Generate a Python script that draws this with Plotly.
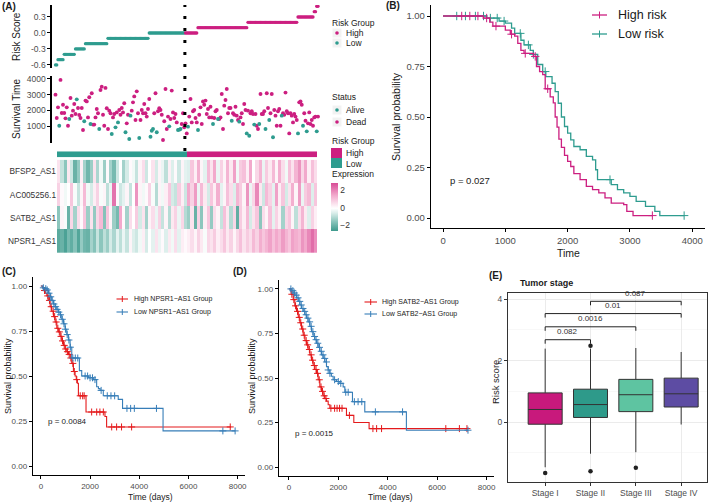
import numpy as np
import plotly.graph_objects as go

W, H = 709, 502
FONT = "Liberation Sans, Arial, sans-serif"
MAG = "#CC1F80"
TEAL = "#2E9C8F"
RED = "#E41A1C"
BLUE = "#377EB8"
TICK = "#4D4D4D"
TITLE = "#1A1A1A"


def px(x):
    return x / W


def py(y):
    return 1 - y / H


# ---------------- Panel A data ----------------
risk_levels_low = [-0.6, -0.5, -0.4, -0.3, -0.2, -0.1, 0.0]
risk_counts_low = [2, 5, 9, 8, 18, 33, 29]
risk_levels_high = [0.0, 0.1, 0.2, 0.3, 0.4, 0.5]
risk_counts_high = [10, 40, 40, 13, 2, 2]

survival_time_low = [
    3000, 1510, 2190, 1020, 3940, 1830, 2360, 1830, 1490, 2190,
    1020, 1450, 2790, 1660, 1980, 2400, 1770, 2700, 2150, 1700,
    1510, 2150, 745, 1300, 2620, 2570, 1550, 2830, 1130, 3090,
    1090, 1090, 1550, 2090, 1810, 810, 3300, 3510, 1720, 1020,
    3430, 2130, 810, 1980, 1810, 490, 1550, 1770, 915, 1870,
    1230, 2020, 1720, 2150, 1870, 2450, 600, 1170, 1720, 170,
    1660, 1980, 2510, 2890, 1380, 3210, 1810, 235, 1380, 2020,
    1810, 2400, 1810, 1600, 2090, 2720, 320, 700, 810, 1810,
    3090, 600, 1940, 2130, 2020, 1720, 106, 1300, 3360, 810,
    1600, 980, 1450, 3260, 1870, 1510, 1770, 1230, 745, 770,
    810, 1130, 1810, 915]
status_low = [  # 1 = Dead, 0 = Alive
    1, 1, 1, 0, 1, 1, 1, 1, 1, 1,
    1, 0, 1, 1, 1, 1, 1, 0, 1, 1,
    1, 1, 1, 0, 1, 1, 1, 1, 0, 1,
    1, 1, 1, 1, 1, 0, 1, 1, 1, 1,
    1, 1, 1, 1, 1, 0, 1, 1, 0, 1,
    0, 1, 1, 1, 1, 1, 0, 1, 1, 0,
    0, 1, 1, 1, 1, 1, 1, 0, 1, 1,
    1, 1, 1, 1, 1, 1, 0, 0, 0, 1,
    1, 0, 1, 1, 1, 1, 1, 1, 1, 1,
    1, 0, 1, 1, 1, 1, 1, 1, 0, 0,
    0, 1, 1, 1]
survival_time_high = [
    1170, 530, 960, 1600, 2720, 1230, 1940, 2020, 1510, 1230,
    745, 1720, 2190, 1130, 2570, 2360, 2620, 1770, 2090, 1550,
    2230, 1550, 1130, 1510, 1940, 2020, 1450, 1450, 1550, 3040,
    810, 2300, 2660, 3360, 1810, 2150, 2150, 1340, 1810, 1720,
    2230, 1660, 1380, 1280, 1550, 1810, 1130, 2400, 2020, 530,
    1980, 380, 1810, 1940, 1770, 1090, 1770, 1020, 810, 1130,
    3040, 1770, 1770, 1940, 810, 3090, 2150, 1380, 1810, 3040,
    280, 2020, 1660, 1020, 1940, 2090, 1020, 1660, 1810, 1720,
    3130, 1940, 1810, 530, 1810, 1660, 1230, 1770, 1600, 1380,
    530, 2510, 2570, 2360, 1020, 1810, 1340, 660, 1170, 1870,
    1130, 1380, 1020, 1550, 1600, 660, 1600]
status_high = [
    1, 1, 0, 1, 1, 1, 1, 1, 1, 1,
    0, 1, 1, 1, 1, 1, 1, 1, 1, 1,
    1, 1, 0, 1, 1, 1, 0, 1, 1, 1,
    1, 1, 1, 1, 1, 1, 1, 0, 1, 1,
    1, 1, 1, 0, 1, 1, 1, 1, 1, 0,
    1, 0, 1, 1, 1, 0, 1, 1, 1, 0,
    1, 1, 1, 1, 0, 1, 1, 0, 1, 1,
    0, 1, 1, 1, 1, 1, 1, 0, 1, 1,
    1, 1, 1, 1, 1, 1, 1, 1, 1, 1,
    0, 1, 1, 1, 0, 1, 1, 0, 1, 1,
    1, 1, 1, 1, 1, 0, 1]

genes = ["BFSP2_AS1", "AC005256.1", "SATB2_AS1", "NPSR1_AS1"]
bfsp2_low = [0.5, -0.8, -1.5, 0.4, -0.7, -2.0, -1.4, 0.3, -1.2, -1.9,
             -1.3, 0.5, -1.1, -0.2, -1.3, 0.1, -1.2, -1.8, -0.7, 0.0,
             -1.2, -0.6, 0.1, -0.2, -0.8, 0.2, 0.6, -0.7, 0.0, 0.5,
             -0.6, 0.2, -0.3, -0.9, 0.3, -0.5, 0.1, -0.7, 0.2, -0.4]
bfsp2_high = [-0.5, 1.0, 0.3, 1.4, 0.2, -0.4, 1.2, 0.5, 1.5, -0.3,
              0.8, 0.2, 1.3, 0.4, 1.6, -0.2, 0.9, 1.1, 0.3, 1.5,
              0.0, 0.7, 1.3, -0.3, 0.9, 0.4, 1.2, 0.2, 1.4, 0.6,
              -0.2, 1.1, 0.5, 1.3, 1.8, 0.7, 1.5, 0.3, 1.1, 0.6]
ac005_low = [0.8, 0.1, -0.2, 0.0, 1.0, -0.1, -0.8, 0.2, 1.2, -0.2,
             -0.6, 0.3, 0.8, -0.1, 0.2, -0.9, -0.3, 2.3, 0.1, -0.7,
             -0.4, 0.2, -0.8, 0.0, 1.8, 0.2, -0.2, 0.1, 0.8, -0.1,
             -1.0, 0.2, -0.2, 0.3, 1.0, -0.6, -0.8, 0.9, 0.3, -0.7]
ac005_high = [1.5, 0.8, 1.7, -0.3, 1.2, 0.4, -0.6, 1.0, 0.3, 1.4,
              -0.4, 0.2, 1.1, 0.6, -0.5, 1.3, 0.9, 0.2, 1.8, -0.3,
              0.7, 2.0, 0.4, -0.7, 1.2, 0.8, -0.4, 1.6, 0.3, 1.0,
              -0.6, 0.5, 1.4, 0.2, 1.7, -0.3, 0.9, 1.2, -0.5, 1.0]
satb2_low = [-1.5, 0.2, -0.1, -2.0, 0.7, -1.2, 0.6, 0.1, 1.0, -1.3,
             0.5, -1.4, 0.7, 1.2, -1.6, 1.0, 0.2, -1.3, -1.8, 1.5,
             0.1, -1.2, 0.6, 0.0, 0.9, -0.6, 0.5, -1.2, 0.2, 0.6,
             -0.3, 0.8, -0.8, 0.2, -1.0, 0.4, 0.8, -0.3, 0.7, -1.0]
satb2_high = [-1.3, 0.5, -2.0, 0.8, -1.5, 0.3, 1.0, -1.4, 0.6, 0.2,
              -0.8, 1.1, 0.4, -1.0, 0.7, -2.1, 0.9, 0.3, 1.2, -0.6,
              0.5, 1.0, -1.5, 0.6, 0.2, 1.1, -0.4, 0.8, 0.3, -1.2,
              0.7, 1.0, 0.2, -0.9, 0.6, 1.3, 0.4, -0.5, 0.8, 0.3]
npsr1_low = [-2.2, -2.0, -2.4, -1.8, -2.1, -1.6, -2.3, -1.4, -1.9, -2.0,
             -1.2, -1.6, -0.8, -1.5, -0.9, -1.3, -0.6, -1.1, -0.4, -0.9,
             -0.3, -0.8, 0.2, -0.5, -0.7, -0.2, 0.3, -0.6, 0.0, -0.4,
             0.5, -0.3, 0.1, -0.5, 0.4, -0.2, 0.6, -0.4, 0.3, 0.1]
npsr1_high = [0.3, 0.6, 0.2, 0.8, 0.4, -0.1, 0.7, 0.5, 0.9, 0.3,
              0.6, 1.0, 0.4, 0.8, 0.2, 0.7, 1.1, 0.5, 0.9, 0.6,
              1.2, 0.8, 1.4, 1.0, 1.3, 1.6, 1.1, 1.5, 1.2, 1.7,
              1.3, 1.0, 1.6, 1.4, 1.2, 1.8, 1.5, 2.0, 2.4, 1.9]

# ---------------- Panel B data ----------------
b_high_t = [0, 650, 750, 800, 1000, 1080, 1150, 1200, 1250, 1300, 1450, 1500, 1550, 1600,
            1640, 1720, 1770, 1800, 1830, 1860, 1900, 1950, 2000, 2050, 2100, 2200, 2300,
            2400, 2500, 2600, 2700, 2900, 2950, 3050, 3360]
b_high_s = [1.0, 0.99, 0.97, 0.95, 0.93, 0.91, 0.90, 0.865, 0.83, 0.815, 0.80, 0.75, 0.725, 0.71,
            0.64, 0.60, 0.57, 0.50, 0.45, 0.39, 0.35, 0.31, 0.28, 0.255, 0.22, 0.19, 0.157,
            0.14, 0.124, 0.10, 0.074, 0.066, 0.033, 0.012, 0.012]
b_high_cens = [300, 430, 560, 700, 850, 1100, 1320, 1480, 1680, 3360]
b_low_t = [0, 700, 900, 1000, 1100, 1150, 1250, 1300, 1400, 1450, 1520, 1600, 1650, 1750,
           1800, 1850, 1900, 1950, 2000, 2050, 2100, 2200, 2300, 2400, 2450, 2480, 2700,
           2800, 2900, 3000, 3100, 3250, 3400, 3480, 3870]
b_low_s = [1.0, 0.99, 0.975, 0.965, 0.94, 0.914, 0.88, 0.857, 0.83, 0.81, 0.76, 0.725, 0.70, 0.667,
           0.626, 0.568, 0.50, 0.453, 0.42, 0.387, 0.354, 0.338, 0.305, 0.288, 0.239, 0.19, 0.165,
           0.14, 0.124, 0.107, 0.082, 0.058, 0.033, 0.012, 0.012]
b_low_cens = [220, 360, 520, 650, 760, 870, 980, 1240, 1370, 1450, 1640, 2680, 3870]

# ---------------- Panel C data ----------------
c_high_t = [0, 60, 120, 180, 243, 300, 378, 440, 513, 580, 648, 710, 783, 850, 918, 985,
            1053, 1120, 1188, 1256, 1323, 1391, 1440, 1485, 1526, 1836, 2606, 2673, 7736]
c_high_s = [1.0, 0.99, 0.975, 0.96, 0.945, 0.92, 0.885, 0.86, 0.83, 0.80, 0.765, 0.745, 0.72,
            0.695, 0.67, 0.65, 0.635, 0.62, 0.60, 0.57, 0.525, 0.50, 0.48, 0.46, 0.39, 0.30,
            0.275, 0.217, 0.217]
c_high_cens = [150, 280, 350, 420, 500, 560, 620, 690, 750, 820, 880, 950, 1010, 1080, 1150,
               1220, 1300, 1360, 1460, 1600, 1700, 1760, 2065, 2270, 2400, 2540, 2880, 3080,
               3280, 3690, 7700]
c_low_t = [0, 80, 160, 243, 310, 378, 440, 513, 580, 648, 710, 783, 850, 918, 985, 1053,
           1120, 1188, 1256, 1566, 1661, 1931, 2133, 2268, 2340, 2407, 2538, 3146, 3321,
           4968, 7898]
c_low_s = [1.0, 0.99, 0.985, 0.978, 0.96, 0.94, 0.92, 0.90, 0.885, 0.87, 0.855, 0.84, 0.815,
           0.79, 0.76, 0.73, 0.70, 0.66, 0.60, 0.53, 0.50, 0.49, 0.48, 0.44, 0.43, 0.42, 0.39,
           0.37, 0.32, 0.195, 0.195]
c_low_cens = [100, 200, 260, 330, 400, 460, 530, 600, 660, 730, 800, 870, 940, 1000, 1070,
              1140, 1200, 1300, 1400, 1500, 1800, 1900, 2000, 2100, 2200, 2450, 2700, 2850,
              3000, 3500, 3650, 3800, 4700, 7400, 7898]

# ---------------- Panel D data ----------------
d_high_t = [0, 90, 175, 240, 310, 380, 444, 510, 579, 650, 714, 780, 849, 915, 983, 1050,
            1118, 1185, 1253, 1320, 1387, 1455, 1522, 1590, 1657, 2330, 2627, 3246, 7206]
d_high_s = [1.0, 0.97, 0.94, 0.905, 0.874, 0.84, 0.81, 0.775, 0.74, 0.71, 0.686, 0.66, 0.63,
            0.60, 0.57, 0.548, 0.526, 0.49, 0.45, 0.425, 0.40, 0.385, 0.37, 0.35, 0.33, 0.29,
            0.25, 0.216, 0.216]
d_high_cens = [120, 200, 270, 350, 420, 480, 560, 620, 700, 760, 830, 900, 960, 1030, 1100,
               1160, 1230, 1300, 1360, 1430, 1500, 1700, 1850, 1950, 2050, 2150, 2450, 3400,
               3550, 3750, 6350, 6900, 7206]
d_low_t = [0, 90, 175, 240, 310, 380, 444, 510, 579, 650, 714, 780, 849, 915, 983, 1050,
           1118, 1185, 1253, 1320, 1387, 1455, 1522, 1590, 1657, 1720, 1791, 1926, 2061,
           2195, 2263, 2573, 3071, 4755, 7247]
d_low_s = [1.0, 0.99, 0.977, 0.965, 0.95, 0.93, 0.91, 0.89, 0.874, 0.855, 0.836, 0.815, 0.79,
           0.76, 0.733, 0.715, 0.695, 0.672, 0.65, 0.63, 0.61, 0.59, 0.564, 0.545, 0.526,
           0.51, 0.49, 0.48, 0.47, 0.45, 0.42, 0.367, 0.31, 0.207, 0.207]
d_low_cens = [80, 160, 230, 300, 370, 440, 500, 570, 640, 700, 770, 840, 900, 970, 1040,
              1100, 1170, 1240, 1310, 1380, 1450, 1520, 1590, 1660, 1850, 2000, 2100, 2300,
              2400, 2650, 2800, 2950, 3500, 4600, 7247]

# ---------------- Panel E data ----------------
stages = ["Stage I", "Stage II", "Stage III", "Stage IV"]
stage_colors = ["#C8197C", "#2E9A8A", "#5EC4A1", "#5D4CA3"]
box_q1 = [-0.07, 0.15, 0.34, 0.49]
box_median = [0.41, 0.57, 0.89, 0.92]
box_q3 = [0.95, 1.07, 1.39, 1.43]
box_lower = [-1.47, -1.03, -0.98, -0.08]
box_upper = [2.39, 2.39, 2.41, 2.28]
outlier_stage = [0, 1, 1, 2]
outlier_value = [-1.66, -1.60, 2.48, -1.49]
bracket_from = [0, 0, 0, 1]
bracket_to = [1, 2, 3, 3]
bracket_y = [2.68, 3.10, 3.53, 3.93]
bracket_label = ["0.082", "0.0016", "0.01", "0.087"]

# ---------------- figure ----------------
fig = go.Figure()

# Panel A: risk score
risk_low = np.repeat(risk_levels_low, risk_counts_low)
risk_high = np.repeat(risk_levels_high, risk_counts_high)
n_low, n_high = len(risk_low), len(risk_high)
idx_low = np.arange(1, n_low + 1)
idx_high = np.arange(n_low + 1, n_low + n_high + 1)
fig.add_trace(go.Scatter(x=idx_low, y=risk_low, mode="markers", xaxis="x", yaxis="y",
                         marker=dict(color=TEAL, size=3.3), showlegend=False))
fig.add_trace(go.Scatter(x=idx_high, y=risk_high, mode="markers", xaxis="x", yaxis="y",
                         marker=dict(color=MAG, size=3.3), showlegend=False))

# Panel A: survival time
s_time = np.array(survival_time_low + survival_time_high)
s_stat = np.array(status_low + status_high)
s_idx = np.arange(1, len(s_time) + 1)
fig.add_trace(go.Scatter(x=s_idx[s_stat == 1], y=s_time[s_stat == 1], mode="markers",
                         xaxis="x2", yaxis="y2", marker=dict(color=MAG, size=3.9), showlegend=False))
fig.add_trace(go.Scatter(x=s_idx[s_stat == 0], y=s_time[s_stat == 0], mode="markers",
                         xaxis="x2", yaxis="y2", marker=dict(color=TEAL, size=3.9), showlegend=False))

# Panel A: risk group bar
fig.add_trace(go.Heatmap(z=[[0, 1]], x=[0, 1], y=[0], xaxis="x3", yaxis="y3",
                         colorscale=[[0, TEAL], [1, MAG]], showscale=False))

# Panel A: expression heatmap
expr = [bfsp2_low + bfsp2_high, ac005_low + ac005_high,
        satb2_low + satb2_high, npsr1_low + npsr1_high]
zmin, zmax = -2.6, 2.9


def zpos(z):
    return (z - zmin) / (zmax - zmin)


heat_scale = [[0, "#3E9A8D"], [zpos(-1.5), "#8CC6BD"], [zpos(-0.5), "#DDEFEC"],
              [zpos(0), "#FFFFFF"], [zpos(0.5), "#FBE3EE"], [zpos(1.5), "#F2A9CC"],
              [1, "#D84C96"]]
fig.add_trace(go.Heatmap(
    z=expr, x=list(range(len(expr[0]))), y=[0, 1, 2, 3], xaxis="x4", yaxis="y4",
    zmin=zmin, zmax=zmax, colorscale=heat_scale,
    colorbar=dict(x=px(331), xanchor="left", y=py(206.5), yanchor="middle",
                  len=48, lenmode="pixels", thickness=7, thicknessmode="pixels",
                  xpad=0, ypad=0, outlinewidth=0, ticks="",
                  tickvals=[-2, 0, 2], ticktext=["\u22122", "0", "2"],
                  tickfont=dict(size=8.5, color="#333", family=FONT))))


def step_at(times, surv, t):
    i = np.searchsorted(np.asarray(times), np.asarray(t), side="right") - 1
    return np.asarray(surv)[np.clip(i, 0, len(surv) - 1)]


def km(times, surv, cens, color, xa, ya, lw=1.3, msize=6):
    fig.add_trace(go.Scatter(x=times, y=surv, mode="lines", line=dict(color=color, width=lw, shape="hv"),
                             xaxis=xa, yaxis=ya, showlegend=False))
    fig.add_trace(go.Scatter(x=cens, y=step_at(times, surv, cens), mode="markers",
                             marker=dict(symbol="cross-thin", size=msize, line=dict(color=color, width=1)),
                             xaxis=xa, yaxis=ya, showlegend=False))


km(b_low_t, b_low_s, b_low_cens, TEAL, "x5", "y5")
km(b_high_t, b_high_s, b_high_cens, MAG, "x5", "y5")
km(c_high_t, c_high_s, c_high_cens, RED, "x6", "y6", lw=1.1, msize=5)
km(c_low_t, c_low_s, c_low_cens, BLUE, "x6", "y6", lw=1.1, msize=5)
km(d_high_t, d_high_s, d_high_cens, RED, "x7", "y7", lw=1.1, msize=5)
km(d_low_t, d_low_s, d_low_cens, BLUE, "x7", "y7", lw=1.1, msize=5)

# Panel E: boxes
for i, st in enumerate(stages):
    fig.add_trace(go.Box(x=[i], q1=[box_q1[i]], median=[box_median[i]], q3=[box_q3[i]],
                         lowerfence=[box_lower[i]], upperfence=[box_upper[i]],
                         fillcolor=stage_colors[i], line=dict(color="#333333", width=1),
                         width=0.75, whiskerwidth=0, boxpoints=False,
                         xaxis="x8", yaxis="y8", showlegend=False, name=st))
fig.add_trace(go.Scatter(x=outlier_stage, y=outlier_value, mode="markers",
                         marker=dict(color="#222222", size=4.5), xaxis="x8", yaxis="y8",
                         showlegend=False))

# ---------------- axes ----------------
tickfont = dict(size=8.5, color=TICK, family=FONT)
left_a = dict(showline=True, linecolor="black", linewidth=1.6, ticks="outside", ticklen=3,
              tickcolor="black", showgrid=False, zeroline=False, tickfont=tickfont,
              automargin=False)
x_a = dict(domain=[px(52), px(322)], range=[-1.8, 214.2], visible=False, automargin=False)
layout_axes = dict(
    xaxis=dict(x_a, anchor="y"),
    yaxis=dict(left_a, domain=[py(68), py(5)], range=[-0.657, 0.525], anchor="x",
               tickvals=[-0.6, -0.3, 0, 0.3], ticktext=["-0.6", "-0.3", "0.0", "0.3"]),
    xaxis2=dict(x_a, anchor="y2"),
    yaxis2=dict(left_a, domain=[py(143), py(76)], range=[-83, 4190], anchor="x2",
                tickvals=[1000, 2000, 3000, 4000]),
    xaxis3=dict(domain=[px(57), px(317)], range=[-0.5, 1.5], visible=False, anchor="y3",
                automargin=False),
    yaxis3=dict(domain=[py(157.3), py(151.3)], range=[-0.5, 0.5], visible=False, anchor="x3",
                automargin=False),
    xaxis4=dict(domain=[px(57), px(317)], range=[-0.5, 79.5], visible=False, anchor="y4",
                automargin=False),
    yaxis4=dict(domain=[py(253), py(159.7)], range=[3.5, -0.5], anchor="x4", showline=False,
                showgrid=False, zeroline=False, ticks="", tickvals=[0, 1, 2, 3], ticktext=genes,
                tickfont=dict(size=8.3, color="#333", family=FONT), automargin=False),
)


def km_axes(xd, yd, xr, xt, tf):
    xa = dict(domain=xd, range=xr, showline=True, linecolor="black", linewidth=1.2,
              ticks="outside", ticklen=3, tickcolor="black", showgrid=False, zeroline=False,
              tickvals=xt, tickfont=tf, automargin=False)
    ya = dict(domain=yd, range=[-0.05, 1.05], showline=True, linecolor="black", linewidth=1.2,
              ticks="outside", ticklen=3, tickcolor="black", showgrid=False, zeroline=False,
              tickvals=[0, 0.25, 0.5, 0.75, 1.0], ticktext=["0.00", "0.25", "0.50", "0.75", "1.00"],
              tickfont=tf, automargin=False)
    return xa, ya


xa5, ya5 = km_axes([px(431), px(705)], [py(228), py(5)], [-193, 4205],
                   [0, 1000, 2000, 3000, 4000], dict(size=9.5, color=TICK, family=FONT))
ya5["range"] = [-0.0495, 1.0545]
xa6, ya6 = km_axes([px(33), px(245)], [py(475), py(277)], [-320, 8300],
                   [0, 2000, 4000, 6000, 8000], dict(size=8, color=TICK, family=FONT))
xa7, ya7 = km_axes([px(279), px(494)], [py(476), py(280)], [-400, 8300],
                   [0, 2000, 4000, 6000, 8000], dict(size=8, color=TICK, family=FONT))
for k, v in [("xaxis5", dict(xa5, anchor="y5")), ("yaxis5", dict(ya5, anchor="x5")),
             ("xaxis6", dict(xa6, anchor="y6")), ("yaxis6", dict(ya6, anchor="x6")),
             ("xaxis7", dict(xa7, anchor="y7")), ("yaxis7", dict(ya7, anchor="x7"))]:
    layout_axes[k] = v

layout_axes["xaxis8"] = dict(domain=[px(508), px(707)], range=[-0.82, 3.57], anchor="y8",
                             showline=True, mirror=True, linecolor="#333", linewidth=1,
                             ticks="outside", ticklen=3, tickcolor="#333", zeroline=False,
                             showgrid=True, gridcolor="#EBEBEB", gridwidth=1,
                             tickvals=[0, 1, 2, 3], ticktext=stages, automargin=False,
                             tickfont=dict(size=8.5, color=TICK, family=FONT))
layout_axes["yaxis8"] = dict(domain=[py(482), py(293)], range=[-1.95, 4.2], anchor="x8",
                             showline=True, mirror=True, linecolor="#333", linewidth=1,
                             ticks="outside", ticklen=3, tickcolor="#333", zeroline=False,
                             showgrid=True, gridcolor="#EBEBEB", gridwidth=1, automargin=False,
                             tickvals=[0, 2, 4], tickfont=dict(size=8.5, color=TICK, family=FONT),
                             minor=dict(tickvals=[-1, 1, 3], showgrid=True, gridcolor="#F3F3F3",
                                        gridwidth=0.6, ticks=""))

# ---------------- shapes & annotations ----------------
shapes = []
ann = []


def lin(x0, y0, x1, y1, color, width=1.0, dash=None):
    d = dict(type="line", xref="paper", yref="paper", x0=px(x0), y0=py(y0), x1=px(x1), y1=py(y1),
             line=dict(color=color, width=width))
    if dash:
        d["line"]["dash"] = dash
    return d


def rect(x0, y0, x1, y1, color):
    return dict(type="rect", xref="paper", yref="paper", x0=px(x0), y0=py(y1), x1=px(x1), y1=py(y0),
                fillcolor=color, line=dict(width=0))


def dot(cx, cy, r, color):
    return dict(type="circle", xref="paper", yref="paper", x0=px(cx - r), x1=px(cx + r),
                y0=py(cy + r), y1=py(cy - r), fillcolor=color, line=dict(width=0))


def txt(x, y, s, size, color=TITLE, xanchor="left", bold=False, angle=0, yanchor="middle"):
    return dict(xref="paper", yref="paper", x=px(x), y=py(y), text=f"<b>{s}</b>" if bold else s,
                showarrow=False, xanchor=xanchor, yanchor=yanchor, textangle=angle,
                font=dict(size=size, color=color, family=FONT))


# dotted divider in panel A
shapes.append(dict(type="line", xref="x", yref="paper", x0=n_low + 0.5, x1=n_low + 0.5,
                   y0=py(151), y1=py(5), line=dict(color="black", width=3, dash="3px,9px")))

# panel A legends
ann.append(txt(330, 23, "Risk Group", 8.5))
for yy, c, lab in [(33, MAG, "High"), (43, TEAL, "Low")]:
    shapes.append(rect(332.5, yy - 4.5, 341.5, yy + 4.5, "#F2F2F2"))
    shapes.append(dot(337, yy, 1.8, c))
    ann.append(txt(344, yy, lab, 8.5))
ann.append(txt(330, 97, "Status", 8.5))
for yy, c, lab in [(110, TEAL, "Alive"), (122, MAG, "Dead")]:
    shapes.append(rect(332.5, yy - 4.5, 341.5, yy + 4.5, "#F2F2F2"))
    shapes.append(dot(337, yy, 1.8, c))
    ann.append(txt(344, yy, lab, 8.5))
ann.append(txt(330, 141, "Risk Group", 8.5))
shapes.append(rect(331, 148, 342, 158, MAG))
shapes.append(rect(331, 158, 342, 168, TEAL))
ann.append(txt(344, 153, "High", 8.5))
ann.append(txt(344, 164, "Low", 8.5))
ann.append(txt(330, 174, "Expression", 8.5))

# panel A titles
ann.append(txt(16, 37, "Risk Score", 10, angle=-90, xanchor="center"))
ann.append(txt(16, 109, "Survival Time", 10, angle=-90, xanchor="center"))

# panel B legend / titles
for yy, c, lab in [(15, MAG, "High risk"), (34, TEAL, "Low risk")]:
    shapes.append(lin(592, yy, 607, yy, c, 1.3))
    shapes.append(lin(599.5, yy - 3.5, 599.5, yy + 3.5, c, 1))
    ann.append(txt(616, yy, lab, 12.5))
ann.append(txt(448, 180, "p = 0.027", 9.5))
ann.append(txt(568, 253, "Time", 10.5, xanchor="center"))
ann.append(txt(396, 117, "Survival probability", 10.5, angle=-90, xanchor="center"))

# panel C legend / titles
for yy, c, lab in [(299, RED, "High NPSR1\u2212AS1 Group"), (312, BLUE, "Low NPSR1\u2212AS1 Group")]:
    shapes.append(lin(116.5, yy, 128, yy, c, 1.1))
    shapes.append(lin(122.3, yy - 3, 122.3, yy + 3, c, 1))
    ann.append(txt(131.5, yy, lab, 7))
ann.append(txt(45.5, 421, "p = 0.0084", 8))
ann.append(txt(150, 497, "Time (days)", 8.5, xanchor="center"))
ann.append(txt(8, 376, "Survival probability", 9, angle=-90, xanchor="center"))

# panel D legend / titles
for yy, c, lab in [(302, RED, "High SATB2\u2212AS1 Group"), (314, BLUE, "Low SATB2\u2212AS1 Group")]:
    shapes.append(lin(364.5, yy, 377, yy, c, 1.1))
    shapes.append(lin(370.7, yy - 3, 370.7, yy + 3, c, 1))
    ann.append(txt(380, yy, lab, 7))
ann.append(txt(292.5, 433, "p = 0.0015", 8))
ann.append(txt(390, 497, "Time (days)", 8.5, xanchor="center"))
ann.append(txt(252, 376, "Survival probability", 9, angle=-90, xanchor="center"))

# panel E titles and brackets
ann.append(txt(518, 283, "Tumor stage", 9, bold=True))
ann.append(txt(495, 382, "Risk score", 9.5, angle=-90, xanchor="center"))
for a, b, yb, lab in zip(bracket_from, bracket_to, bracket_y, bracket_label):
    for seg in [(a, yb, b, yb), (a, yb, a, yb - 0.13), (b, yb, b, yb - 0.13)]:
        shapes.append(dict(type="line", xref="x8", yref="y8", x0=seg[0], y0=seg[1], x1=seg[2],
                           y1=seg[3], line=dict(color="#222", width=1)))
    ann.append(dict(xref="x8", yref="y8", x=(a + b) / 2, y=yb + 0.05, text=lab, showarrow=False,
                    xanchor="center", yanchor="bottom",
                    font=dict(size=8, color="#333", family=FONT)))

# panel labels
ann.append(txt(0, 7, "(A)", 10, bold=True))
ann.append(txt(384, 6, "(B)", 10, bold=True))
ann.append(txt(0, 271, "(C)", 10, bold=True))
ann.append(txt(231, 271, "(D)", 10, bold=True))
ann.append(txt(487, 275, "(E)", 10, bold=True))

fig.update_layout(width=W, height=H, autosize=False, margin=dict(l=0, r=0, t=0, b=0, pad=0),
                  paper_bgcolor="white", plot_bgcolor="white", showlegend=False,
                  font=dict(family=FONT), shapes=shapes, annotations=ann, **layout_axes)

fig.write_html("out.html", config={"displayModeBar": False, "staticPlot": True},
               post_script="document.body.style.margin='0px';document.body.style.padding='0px';")
